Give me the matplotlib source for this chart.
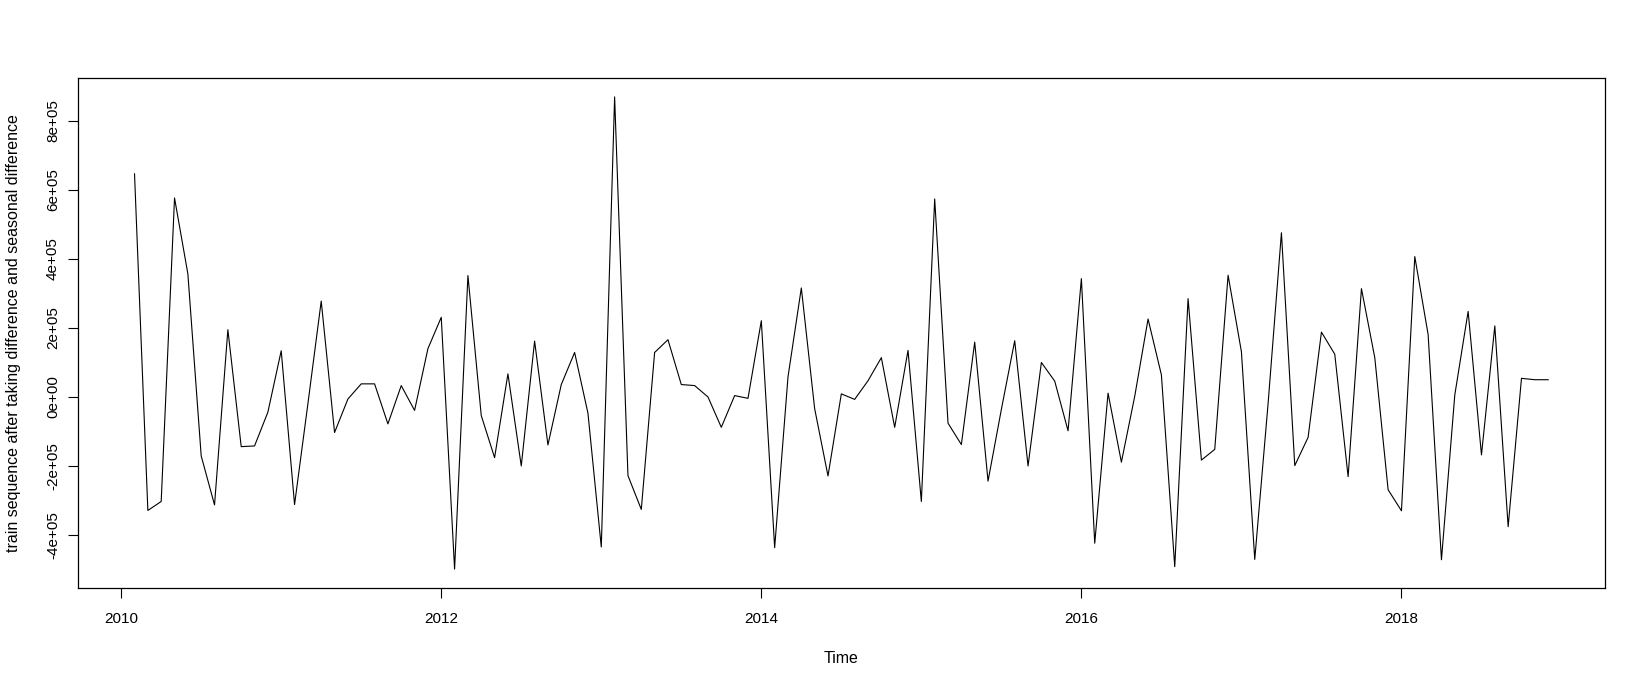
#!/usr/bin/env python3
"""Differenced + seasonally differenced training series, R base ts-plot look."""

import matplotlib
matplotlib.use("Agg")
import matplotlib.pyplot as plt
import numpy as np

# monthly series, Feb 2010 .. Dec 2018, values in units of 1e5
START_YEAR = 2010
START_MONTH = 2
diff_values = [
    6.46, -3.30, -3.04, 5.76, 3.56, -1.72, -3.14, 1.94, -1.45, -1.43, -0.45,
    1.33, -3.13, -0.21, 2.77, -1.04, -0.07, 0.37, 0.37, -0.79, 0.32, -0.40, 1.39,
    2.30, -5.00, 3.51, -0.55, -1.77, 0.66, -2.01, 1.61, -1.40, 0.35, 1.28, -0.48,
    -4.36, 8.69, -2.29, -3.27, 1.28, 1.65, 0.35, 0.32, -0.01, -0.89, 0.03, -0.05,
    2.20, -4.38, 0.57, 3.15, -0.35, -2.30, 0.08, -0.08, 0.46, 1.13, -0.89, 1.34,
    -3.04, 5.73, -0.77, -1.39, 1.58, -2.45, -0.37, 1.62, -2.01, 0.99, 0.45, -0.99,
    3.42, -4.25, 0.10, -1.90, 0.01, 2.25, 0.63, -4.93, 2.84, -1.84, -1.53, 3.52,
    1.30, -4.72, -0.20, 4.75, -2.00, -1.18, 1.87, 1.23, -2.32, 3.13, 1.13, -2.70,
    -3.31, 4.06, 1.80, -4.73, 0.05, 2.47, -1.69, 2.05, -3.77, 0.53, 0.49, 0.49,
]
x_ticks = [2010, 2012, 2014, 2016, 2018]
y_ticks = [-4e5, -2e5, 0, 2e5, 4e5, 6e5, 8e5]
y_tick_labels = ["-4e+05", "-2e+05", "0e+00", "2e+05", "4e+05", "6e+05", "8e+05"]

plt.rcParams["font.family"] = ["Liberation Sans", "DejaVu Sans"]

y = np.array(diff_values) * 1e5
t = START_YEAR + (START_MONTH - 1 + np.arange(len(y))) / 12.0


def r_range(lo, hi, frac=0.04):
    pad = (hi - lo) * frac
    return lo - pad, hi + pad


fig = plt.figure(figsize=(16.45, 6.86), dpi=100)
ax = fig.add_axes([0.0474, 0.1429, 0.9281, 0.7434])
ax.plot(t, y, color="black", linewidth=0.8)

ax.set_xlim(*r_range(t.min(), t.max()))
ax.set_ylim(*r_range(y.min(), y.max()))
ax.set_xticks(x_ticks)
ax.set_xticklabels([str(v) for v in x_ticks])
ax.set_yticks(y_ticks)
ax.set_yticklabels(y_tick_labels, rotation=90, va="center")

ax.tick_params(axis="both", direction="out", length=7, width=0.8,
               labelsize=11, colors="black")
ax.tick_params(axis="x", pad=10)
ax.tick_params(axis="y", pad=6)
for sp in ax.spines.values():
    sp.set_linewidth(0.9)
    sp.set_color("black")

ax.set_xlabel("Time", fontsize=11.5, labelpad=18.5)
ax.set_ylabel("train sequence after taking difference and seasonal difference",
              fontsize=11.5, labelpad=18)

fig.savefig("out.png", dpi=100, facecolor="white")
